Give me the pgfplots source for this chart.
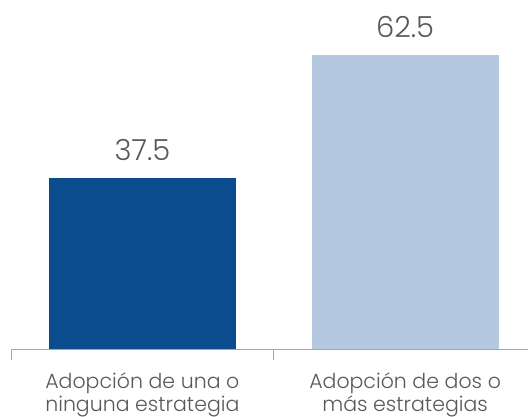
\documentclass[border=0pt]{standalone}
\usepackage{pgfplots}
\pgfplotsset{compat=1.18}
\usepackage{fontspec}
\setmainfont{Poppins Light}
\definecolor{darkbar}{HTML}{0B4C8F}
\definecolor{lightbar}{HTML}{B4C9DF}
\definecolor{txt}{HTML}{595959}
\definecolor{axisgray}{HTML}{A6A6A6}
\begin{document}
\begin{tikzpicture}
\path[use as bounding box] (0,0) rectangle (528pt,416pt);
\begin{axis}[
  at={(11pt,67pt)}, anchor=south west,
  scale only axis, width=525.5pt, height=350.58pt,
  xmin=-0.5, xmax=1.5, ymin=2.74, ymax=74,
  axis x line*=bottom, axis y line=none,
  x axis line style={axisgray, line width=0.8pt, -},
  xtick={-0.5,0.5}, xticklabels={},
  major tick length=11pt, tick align=outside,
  tick style={axisgray, line width=0.8pt},
  ytick=\empty,
  ybar, bar width=0.712, bar shift=0pt,
  nodes near coords,
  every node near coord/.append style={font=\fontsize{29}{31}\selectfont, text=txt, anchor=base, yshift=17pt},
  /pgf/number format/assume math mode=true,
  /pgf/number format/fixed, /pgf/number format/precision=1,
  clip=false,
]
\addplot[fill=darkbar, draw=none] coordinates {(0,37.5)};
\addplot[fill=lightbar, draw=none] coordinates {(1,62.5)};
\node[anchor=north, inner sep=0pt, align=center, text=txt, font=\fontsize{20.5}{23}\selectfont] at (axis cs:0,2.74) [yshift=-23pt] {Adopción de una o\\ninguna estrategia};
\node[anchor=north, inner sep=0pt, align=center, text=txt, font=\fontsize{20.5}{23}\selectfont] at (axis cs:1,2.74) [yshift=-23pt] {Adopción de dos o\\más estrategias};
\end{axis}
\end{tikzpicture}
\end{document}
